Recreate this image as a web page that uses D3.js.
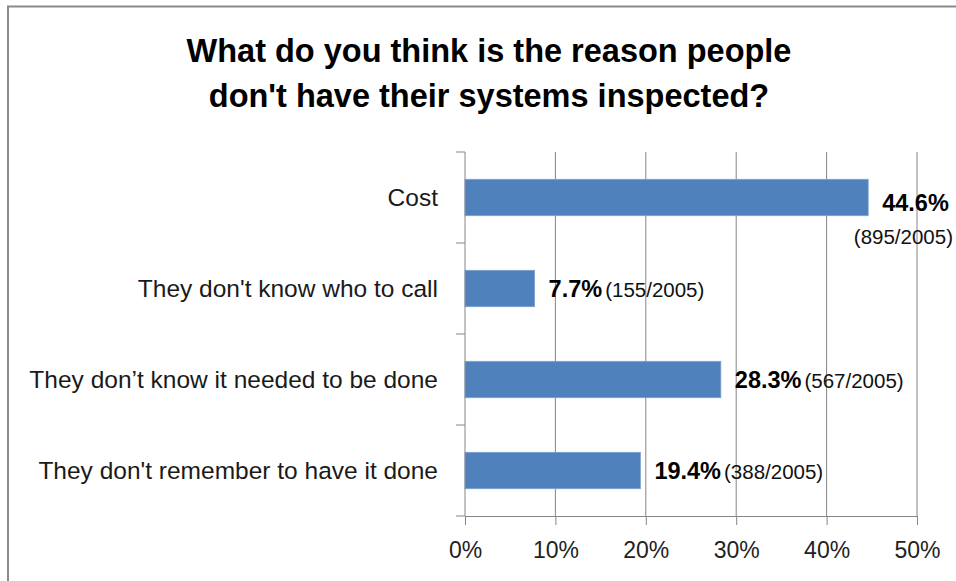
<!DOCTYPE html>
<html>
<head>
<meta charset="utf-8">
<script src="https://cdn.jsdelivr.net/npm/d3@7"></script>
<style>
  html, body { margin: 0; padding: 0; background: #fff; overflow: hidden; }
  svg { display: block; font-family: "Liberation Sans", Arial, sans-serif; }
</style>
</head>
<body>
<svg id="chart" width="956" height="581"></svg>
<script>
// ---- data ----
const titleLines = ["What do you think is the reason people", "don't have their systems inspected?"];
const categories = ["Cost", "They don't know who to call", "They don\u2019t know it needed to be done", "They don't remember to have it done"];
const percents = [44.6, 7.7, 28.3, 19.4];
const counts = [895, 155, 567, 388];
const total = 2005;
const xTicks = [0, 10, 20, 30, 40, 50];

const W = 956, H = 581;
const svg = d3.select("#chart");

// outer frame (right/bottom edges fall outside the picture)
svg.append("rect")
  .attr("x", 8).attr("y", 6.5)
  .attr("width", W + 20).attr("height", H + 20)
  .attr("fill", "none").attr("stroke", "#8a8a8a").attr("stroke-width", 2);

// title
svg.append("g").selectAll("text").data(titleLines).join("text")
  .attr("x", 489).attr("y", (d, i) => 62 + i * 45)
  .attr("text-anchor", "middle")
  .attr("font-weight", "bold").attr("font-size", 32.5)
  .attr("fill", "#000")
  .text(d => d);

const plot = { left: 465, right: 917, top: 152, bottom: 516 };

const x = d3.scaleLinear().domain([0, 50]).range([plot.left, plot.right]);
const y = d3.scaleBand().domain(categories).range([plot.top, plot.bottom])
  .paddingInner(0.6).paddingOuter(0.3);

// vertical gridlines
svg.append("g").selectAll("line").data(xTicks.slice(1)).join("line")
  .attr("x1", d => x(d)).attr("x2", d => x(d))
  .attr("y1", plot.top).attr("y2", plot.bottom)
  .attr("stroke", "#868686").attr("stroke-width", 1);

// bars
svg.append("g").selectAll("rect").data(categories).join("rect")
  .attr("x", x(0))
  .attr("y", d => y(d))
  .attr("width", (d, i) => x(percents[i]) - x(0))
  .attr("height", y.bandwidth())
  .attr("fill", "#4f81bd")
  .attr("stroke", "#7fa2cf").attr("stroke-width", 0.8);

// x axis
const xAxis = svg.append("g")
  .attr("transform", `translate(0,${plot.bottom})`)
  .call(d3.axisBottom(x).tickValues(xTicks).tickFormat(d => d + "%").tickSizeInner(9).tickSizeOuter(0).tickPadding(17));
xAxis.select(".domain").attr("stroke", "#868686");
xAxis.selectAll(".tick line").attr("stroke", "#868686");
xAxis.selectAll(".tick text")
  .attr("font-family", "Liberation Sans, Arial, sans-serif")
  .attr("font-size", 23).attr("fill", "#222");

// y axis (category labels)
const yAxis = svg.append("g")
  .attr("transform", `translate(${plot.left},0)`)
  .call(d3.axisLeft(y).tickSize(0).tickPadding(27));
yAxis.select(".domain").attr("stroke", "#868686").attr("d", `M0,${plot.top}V${plot.bottom}`);
yAxis.selectAll(".tick text")
  .attr("font-family", "Liberation Sans, Arial, sans-serif")
  .attr("font-size", 24.5).attr("fill", "#1a1a1a").attr("dy", "0.36em");

// category boundary ticks on y axis
const bounds = d3.range(categories.length + 1).map(i => plot.top + i * y.step());
svg.append("g").selectAll("line").data(bounds).join("line")
  .attr("x1", plot.left - 9).attr("x2", plot.left)
  .attr("y1", d => d).attr("y2", d => d)
  .attr("stroke", "#868686").attr("stroke-width", 1);

// value labels
const labels = svg.append("g");
categories.forEach((c, i) => {
  const cy = y(c) + y.bandwidth() / 2;
  const x0 = x(percents[i]) + 14;
  const g = labels.append("g");
  const bold = g.append("text")
    .attr("font-weight", "bold").attr("font-size", 23.5).attr("fill", "#000")
    .text(percents[i].toFixed(1) + "%");
  const bw = bold.node().getComputedTextLength();
  const reg = g.append("text")
    .attr("font-size", 20.5).attr("fill", "#111")
    .text(`(${counts[i]}/${total})`);
  const rw = reg.node().getComputedTextLength();
  if (x0 + bw + 3 + rw > W - 4) {
    // wrapped two-line label, kept inside the picture
    const cx = x0 + bw / 2;
    bold.attr("x", cx).attr("y", cy + 13).attr("text-anchor", "middle");
    const rx = Math.min(cx - rw / 2, W - 3 - rw);
    reg.attr("x", rx).attr("y", cy + 46);
  } else {
    bold.attr("x", x0).attr("y", cy + 8);
    reg.attr("x", x0 + bw + 3).attr("y", cy + 8);
  }
});
</script>
</body>
</html>
